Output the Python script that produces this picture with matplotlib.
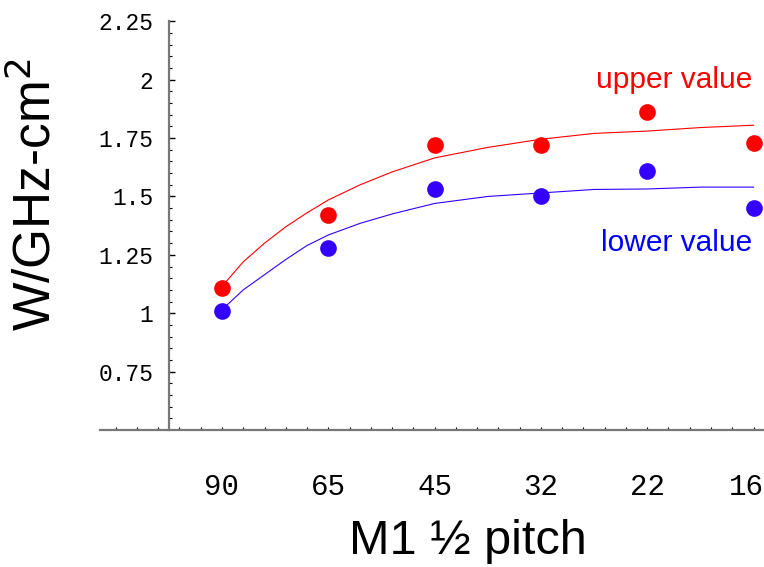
import matplotlib
matplotlib.use("Agg")
import matplotlib.pyplot as plt
from matplotlib.transforms import ScaledTranslation
import numpy as np

# ---- data ----
categories = ["90", "65", "45", "32", "22", "16"]
upper_vals = [1.11, 1.42, 1.72, 1.72, 1.86, 1.73]
lower_vals = [1.01, 1.28, 1.53, 1.50, 1.61, 1.45]

curve_x = [1.0, 1.2, 1.4, 1.6, 1.8, 2.0, 2.3, 2.6, 3.0, 3.5, 4.0, 4.5, 5.0, 5.5, 6.0]
upper_curve = [1.115, 1.22, 1.30, 1.37, 1.43, 1.485, 1.55, 1.605, 1.665, 1.71, 1.745, 1.77, 1.78, 1.795, 1.805]
lower_curve = [1.015, 1.10, 1.165, 1.23, 1.29, 1.335, 1.385, 1.425, 1.47, 1.50, 1.515, 1.53, 1.532, 1.54, 1.54]

y_ticks = [0.75, 1.0, 1.25, 1.5, 1.75, 2.0, 2.25]
y_tick_labels = ["0.75", "1", "1.25", "1.5", "1.75", "2", "2.25"]

RED = "#ff0000"
BLUE = "#3300ff"
AXC = "#777777"

fig = plt.figure(figsize=(7.64, 5.67), dpi=100)
ax = fig.add_axes([100 / 764, 1 - 430 / 567, 664 / 764, (430 - 21.3) / 567])

xpos = np.arange(1, len(categories) + 1)
ax.plot(curve_x, upper_curve, color=RED, lw=0.8, zorder=2)
ax.plot(curve_x, lower_curve, color=BLUE, lw=0.8, zorder=2)
ax.plot(xpos, upper_vals, "o", color=RED, ms=12, mec="none", zorder=3)
ax.plot(xpos, lower_vals, "o", color=BLUE, ms=12, mec="none", zorder=3)

ax.set_xlim(1 - 122 / 106.3, 1 + 542 / 106.3)
ax.set_ylim(0.5, 2.25)

for s in ["top", "right"]:
    ax.spines[s].set_visible(False)
ax.spines["left"].set_position(("data", 0.5))
ax.spines["bottom"].set_position(("data", 0.5))
for s in ["left", "bottom"]:
    ax.spines[s].set_color(AXC)
    ax.spines[s].set_linewidth(1.6)

ax.set_yticks(y_ticks)
ax.set_yticklabels(y_tick_labels, family="Liberation Mono", fontsize=16.5)
ax.set_yticks(np.arange(0.55, 2.25, 0.05), minor=True)
ax.tick_params(axis="y", which="major", direction="in", length=4, width=1, color="black", pad=11)
ax.tick_params(axis="y", which="minor", direction="in", length=2.2, width=0.8, color="black")

ax.set_xticks(xpos)
ax.set_xticklabels(categories, family="Liberation Mono", fontsize=21)
ax.set_xticks(np.arange(0.0, 6.11, 0.2), minor=True)
ax.tick_params(axis="x", which="major", direction="in", length=2.2, width=0.8, color="black", pad=31)
ax.tick_params(axis="x", which="minor", direction="in", length=2.2, width=0.8, color="black")

last = ax.get_xticklabels()[-1]
last.set_transform(last.get_transform() + ScaledTranslation(-7 / 100, 0, fig.dpi_scale_trans))

fig.text(468 / 764, 1 - 542 / 567, "M1 ½ pitch", ha="center", va="center",
         fontsize=35, family=["Liberation Sans", "DejaVu Sans"])
fig.text(36 / 764, 1 - 195 / 567, "W/GHz-cm$^2$", ha="center", va="center", rotation=90,
         fontsize=37, family="Liberation Sans")

fig.text(752 / 764, 1 - 80 / 567, "upper value", ha="right", va="center", color=RED,
         fontsize=21.5, family="Liberation Sans")
fig.text(752 / 764, 1 - 243 / 567, "lower value", ha="right", va="center", color="#0000ff",
         fontsize=21.5, family="Liberation Sans")

fig.savefig("out.png", dpi=100)
